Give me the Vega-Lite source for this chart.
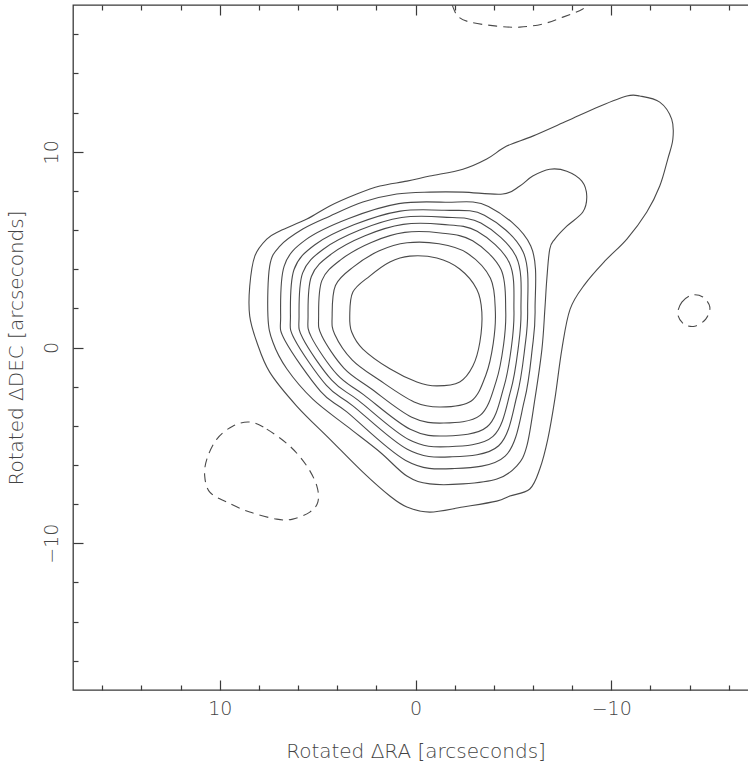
{
  "$schema": "https://vega.github.io/schema/vega-lite/v6.json",
  "width": 685,
  "height": 685,
  "autosize": "none",
  "padding": {"left": 73, "top": 5, "right": 0, "bottom": 74},
  "background": "white",
  "config": {
    "view": {"stroke": "#3a3a3a", "strokeWidth": 1.3},
    "axis": {
      "grid": false,
      "domain": false,
      "tickColor": "#3a3a3a",
      "tickWidth": 1.2,
      "labelFont": "DejaVu Sans",
      "labelFontSize": 19,
      "labelFontWeight": 200,
      "labelColor": "#444444",
      "labelFlush": false,
      "labelOverlap": false,
      "titleFont": "DejaVu Sans",
      "titleFontSize": 20,
      "titleFontWeight": 200,
      "titleColor": "#444444"
    }
  },
  "datasets": {
    "solid": [
      {"c": 1, "i": 1, "x": 8.47, "y": 1.60}, {"c": 1, "i": 2, "x": 8.47, "y": 3.13}, {"c": 1, "i": 3, "x": 8.21, "y": 4.67},
      {"c": 1, "i": 4, "x": 7.60, "y": 5.54}, {"c": 1, "i": 5, "x": 6.93, "y": 5.95}, {"c": 1, "i": 6, "x": 5.55, "y": 6.56},
      {"c": 1, "i": 7, "x": 4.38, "y": 7.23}, {"c": 1, "i": 8, "x": 3.00, "y": 7.84}, {"c": 1, "i": 9, "x": 1.82, "y": 8.25},
      {"c": 1, "i": 10, "x": 0.44, "y": 8.50}, {"c": 1, "i": 11, "x": -0.73, "y": 8.76}, {"c": 1, "i": 12, "x": -2.42, "y": 9.11},
      {"c": 1, "i": 13, "x": -3.64, "y": 9.63}, {"c": 1, "i": 14, "x": -4.66, "y": 10.29}, {"c": 1, "i": 15, "x": -5.99, "y": 10.80},
      {"c": 1, "i": 16, "x": -7.73, "y": 11.57}, {"c": 1, "i": 17, "x": -9.42, "y": 12.33}, {"c": 1, "i": 18, "x": -10.80, "y": 12.85},
      {"c": 1, "i": 19, "x": -11.46, "y": 12.85}, {"c": 1, "i": 20, "x": -12.48, "y": 12.54}, {"c": 1, "i": 21, "x": -13.09, "y": 11.67},
      {"c": 1, "i": 22, "x": -13.15, "y": 10.65}, {"c": 1, "i": 23, "x": -12.89, "y": 9.63}, {"c": 1, "i": 24, "x": -12.48, "y": 8.25},
      {"c": 1, "i": 25, "x": -11.82, "y": 6.92}, {"c": 1, "i": 26, "x": -10.80, "y": 5.54}, {"c": 1, "i": 27, "x": -9.68, "y": 4.42},
      {"c": 1, "i": 28, "x": -8.66, "y": 3.24}, {"c": 1, "i": 29, "x": -7.90, "y": 1.96}, {"c": 1, "i": 30, "x": -7.48, "y": -0.08},
      {"c": 1, "i": 31, "x": -7.12, "y": -2.64}, {"c": 1, "i": 32, "x": -6.76, "y": -4.68}, {"c": 1, "i": 33, "x": -6.35, "y": -6.21},
      {"c": 1, "i": 34, "x": -5.84, "y": -7.23}, {"c": 1, "i": 35, "x": -4.82, "y": -7.59}, {"c": 1, "i": 36, "x": -4.15, "y": -7.85},
      {"c": 1, "i": 37, "x": -2.42, "y": -8.15}, {"c": 1, "i": 38, "x": -0.73, "y": -8.41}, {"c": 1, "i": 39, "x": 0.44, "y": -8.15},
      {"c": 1, "i": 40, "x": 1.31, "y": -7.59}, {"c": 1, "i": 41, "x": 2.69, "y": -6.37}, {"c": 1, "i": 42, "x": 4.38, "y": -4.68},
      {"c": 1, "i": 43, "x": 6.07, "y": -2.99}, {"c": 1, "i": 44, "x": 7.45, "y": -1.26}, {"c": 1, "i": 45, "x": 8.11, "y": 0.28},

      {"c": 2, "i": 1, "x": 7.54, "y": 1.60}, {"c": 2, "i": 2, "x": 7.45, "y": 4.16}, {"c": 2, "i": 3, "x": 6.93, "y": 5.18},
      {"c": 2, "i": 4, "x": 5.76, "y": 6.05}, {"c": 2, "i": 5, "x": 4.38, "y": 6.71}, {"c": 2, "i": 6, "x": 2.69, "y": 7.43},
      {"c": 2, "i": 7, "x": 0.96, "y": 7.84}, {"c": 2, "i": 8, "x": -0.73, "y": 7.94}, {"c": 2, "i": 9, "x": -2.42, "y": 7.94},
      {"c": 2, "i": 10, "x": -4.46, "y": 7.84}, {"c": 2, "i": 11, "x": -5.33, "y": 8.25}, {"c": 2, "i": 12, "x": -5.99, "y": 8.76},
      {"c": 2, "i": 13, "x": -6.86, "y": 9.11}, {"c": 2, "i": 14, "x": -7.73, "y": 9.01}, {"c": 2, "i": 15, "x": -8.50, "y": 8.50},
      {"c": 2, "i": 16, "x": -8.75, "y": 7.74}, {"c": 2, "i": 17, "x": -8.55, "y": 6.92}, {"c": 2, "i": 18, "x": -7.73, "y": 6.20},
      {"c": 2, "i": 19, "x": -7.12, "y": 5.54}, {"c": 2, "i": 20, "x": -6.86, "y": 5.03}, {"c": 2, "i": 21, "x": -6.71, "y": 3.50},
      {"c": 2, "i": 22, "x": -6.61, "y": 1.96}, {"c": 2, "i": 23, "x": -6.46, "y": -0.08}, {"c": 2, "i": 24, "x": -6.10, "y": -2.64},
      {"c": 2, "i": 25, "x": -5.69, "y": -5.03}, {"c": 2, "i": 26, "x": -5.18, "y": -6.05}, {"c": 2, "i": 27, "x": -4.16, "y": -6.72},
      {"c": 2, "i": 28, "x": -2.42, "y": -6.97}, {"c": 2, "i": 29, "x": -0.73, "y": -6.97}, {"c": 2, "i": 30, "x": 0.44, "y": -6.57},
      {"c": 2, "i": 31, "x": 1.82, "y": -5.34}, {"c": 2, "i": 32, "x": 3.51, "y": -4.02}, {"c": 2, "i": 33, "x": 5.25, "y": -2.64},
      {"c": 2, "i": 34, "x": 6.57, "y": -1.10}, {"c": 2, "i": 35, "x": 7.29, "y": 0.28},

      {"c": 3, "i": 1, "x": 6.89, "y": 1.60}, {"c": 3, "i": 2, "x": 6.71, "y": 4.16}, {"c": 3, "i": 3, "x": 5.60, "y": 5.51},
      {"c": 3, "i": 4, "x": 3.41, "y": 6.59}, {"c": 3, "i": 5, "x": 0.86, "y": 7.35}, {"c": 3, "i": 6, "x": -1.52, "y": 7.42},
      {"c": 3, "i": 7, "x": -3.73, "y": 7.21}, {"c": 3, "i": 8, "x": -5.89, "y": 5.19}, {"c": 3, "i": 9, "x": -6.11, "y": 1.94},
      {"c": 3, "i": 10, "x": -5.97, "y": -0.02}, {"c": 3, "i": 11, "x": -5.57, "y": -2.68}, {"c": 3, "i": 12, "x": -4.58, "y": -5.55},
      {"c": 3, "i": 13, "x": -1.86, "y": -6.19}, {"c": 3, "i": 14, "x": 0.50, "y": -5.77}, {"c": 3, "i": 15, "x": 3.51, "y": -3.29},
      {"c": 3, "i": 16, "x": 4.85, "y": -2.24}, {"c": 3, "i": 17, "x": 6.67, "y": 0.36},

      {"c": 4, "i": 1, "x": 6.39, "y": 1.60}, {"c": 4, "i": 2, "x": 6.21, "y": 3.97}, {"c": 4, "i": 3, "x": 5.14, "y": 5.25},
      {"c": 4, "i": 4, "x": 3.12, "y": 6.28}, {"c": 4, "i": 5, "x": 0.78, "y": 6.97}, {"c": 4, "i": 6, "x": -1.46, "y": 7.01},
      {"c": 4, "i": 7, "x": -3.52, "y": 6.76}, {"c": 4, "i": 8, "x": -5.50, "y": 4.88}, {"c": 4, "i": 9, "x": -5.73, "y": 1.92},
      {"c": 4, "i": 10, "x": -5.59, "y": 0.02}, {"c": 4, "i": 11, "x": -5.19, "y": -2.44}, {"c": 4, "i": 12, "x": -4.25, "y": -5.02},
      {"c": 4, "i": 13, "x": -1.75, "y": -5.59}, {"c": 4, "i": 14, "x": 0.42, "y": -5.20}, {"c": 4, "i": 15, "x": 3.20, "y": -2.98},
      {"c": 4, "i": 16, "x": 4.55, "y": -1.94}, {"c": 4, "i": 17, "x": 6.18, "y": 0.42},

      {"c": 5, "i": 1, "x": 5.95, "y": 1.60}, {"c": 5, "i": 2, "x": 5.77, "y": 3.80}, {"c": 5, "i": 3, "x": 4.73, "y": 5.01},
      {"c": 5, "i": 4, "x": 2.85, "y": 6.00}, {"c": 5, "i": 5, "x": 0.71, "y": 6.64}, {"c": 5, "i": 6, "x": -1.41, "y": 6.66},
      {"c": 5, "i": 7, "x": -3.34, "y": 6.36}, {"c": 5, "i": 8, "x": -5.16, "y": 4.60}, {"c": 5, "i": 9, "x": -5.39, "y": 1.90},
      {"c": 5, "i": 10, "x": -5.26, "y": 0.06}, {"c": 5, "i": 11, "x": -4.86, "y": -2.22}, {"c": 5, "i": 12, "x": -3.96, "y": -4.54},
      {"c": 5, "i": 13, "x": -1.65, "y": -5.07}, {"c": 5, "i": 14, "x": 0.35, "y": -4.70}, {"c": 5, "i": 15, "x": 2.92, "y": -2.70},
      {"c": 5, "i": 16, "x": 4.28, "y": -1.67}, {"c": 5, "i": 17, "x": 5.76, "y": 0.47},

      {"c": 6, "i": 1, "x": 5.49, "y": 1.60}, {"c": 6, "i": 2, "x": 5.32, "y": 3.63}, {"c": 6, "i": 3, "x": 4.31, "y": 4.77},
      {"c": 6, "i": 4, "x": 2.58, "y": 5.71}, {"c": 6, "i": 5, "x": 0.63, "y": 6.29}, {"c": 6, "i": 6, "x": -1.35, "y": 6.29},
      {"c": 6, "i": 7, "x": -3.15, "y": 5.94}, {"c": 6, "i": 8, "x": -4.80, "y": 4.32}, {"c": 6, "i": 9, "x": -5.03, "y": 1.89},
      {"c": 6, "i": 10, "x": -4.91, "y": 0.10}, {"c": 6, "i": 11, "x": -4.52, "y": -2.00}, {"c": 6, "i": 12, "x": -3.66, "y": -4.05},
      {"c": 6, "i": 13, "x": -1.55, "y": -4.52}, {"c": 6, "i": 14, "x": 0.27, "y": -4.18}, {"c": 6, "i": 15, "x": 2.64, "y": -2.42},
      {"c": 6, "i": 16, "x": 4.00, "y": -1.39}, {"c": 6, "i": 17, "x": 5.32, "y": 0.53},

      {"c": 7, "i": 1, "x": 4.95, "y": 1.60}, {"c": 7, "i": 2, "x": 4.78, "y": 3.43}, {"c": 7, "i": 3, "x": 3.81, "y": 4.49},
      {"c": 7, "i": 4, "x": 2.26, "y": 5.37}, {"c": 7, "i": 5, "x": 0.55, "y": 5.88}, {"c": 7, "i": 6, "x": -1.28, "y": 5.85},
      {"c": 7, "i": 7, "x": -2.92, "y": 5.45}, {"c": 7, "i": 8, "x": -4.37, "y": 3.98}, {"c": 7, "i": 9, "x": -4.61, "y": 1.87},
      {"c": 7, "i": 10, "x": -4.50, "y": 0.14}, {"c": 7, "i": 11, "x": -4.12, "y": -1.73}, {"c": 7, "i": 12, "x": -3.30, "y": -3.47},
      {"c": 7, "i": 13, "x": -1.44, "y": -3.86}, {"c": 7, "i": 14, "x": 0.19, "y": -3.56}, {"c": 7, "i": 15, "x": 2.30, "y": -2.08},
      {"c": 7, "i": 16, "x": 3.66, "y": -1.05}, {"c": 7, "i": 17, "x": 4.79, "y": 0.60},

      {"c": 8, "i": 1, "x": 4.26, "y": 1.60}, {"c": 8, "i": 2, "x": 4.09, "y": 3.17}, {"c": 8, "i": 3, "x": 3.17, "y": 4.12},
      {"c": 8, "i": 4, "x": 1.85, "y": 4.94}, {"c": 8, "i": 5, "x": 0.43, "y": 5.35}, {"c": 8, "i": 6, "x": -1.20, "y": 5.30},
      {"c": 8, "i": 7, "x": -2.63, "y": 4.83}, {"c": 8, "i": 8, "x": -3.83, "y": 3.54}, {"c": 8, "i": 9, "x": -4.08, "y": 1.84},
      {"c": 8, "i": 10, "x": -3.97, "y": 0.20}, {"c": 8, "i": 11, "x": -3.60, "y": -1.39}, {"c": 8, "i": 12, "x": -2.85, "y": -2.73},
      {"c": 8, "i": 13, "x": -1.29, "y": -3.04}, {"c": 8, "i": 14, "x": 0.07, "y": -2.78}, {"c": 8, "i": 15, "x": 1.87, "y": -1.65},
      {"c": 8, "i": 16, "x": 3.24, "y": -0.63}, {"c": 8, "i": 17, "x": 4.13, "y": 0.68},

      {"c": 9, "i": 1, "x": 3.36, "y": 1.60}, {"c": 9, "i": 2, "x": 3.20, "y": 2.83}, {"c": 9, "i": 3, "x": 2.34, "y": 3.65},
      {"c": 9, "i": 4, "x": 1.31, "y": 4.37}, {"c": 9, "i": 5, "x": 0.29, "y": 4.67}, {"c": 9, "i": 6, "x": -1.09, "y": 4.57},
      {"c": 9, "i": 7, "x": -2.26, "y": 4.01}, {"c": 9, "i": 8, "x": -3.13, "y": 2.98}, {"c": 9, "i": 9, "x": -3.39, "y": 1.81},
      {"c": 9, "i": 10, "x": -3.29, "y": 0.28}, {"c": 9, "i": 11, "x": -2.93, "y": -0.95}, {"c": 9, "i": 12, "x": -2.26, "y": -1.76},
      {"c": 9, "i": 13, "x": -1.09, "y": -1.96}, {"c": 9, "i": 14, "x": -0.07, "y": -1.76}, {"c": 9, "i": 15, "x": 1.31, "y": -1.09},
      {"c": 9, "i": 16, "x": 2.69, "y": -0.08}, {"c": 9, "i": 17, "x": 3.26, "y": 0.79}
    ],
    "dashed": [
      {"c": 1, "i": 1, "x": 8.47, "y": -3.81}, {"c": 1, "i": 2, "x": 7.60, "y": -4.17}, {"c": 1, "i": 3, "x": 6.42, "y": -5.04},
      {"c": 1, "i": 4, "x": 5.55, "y": -6.06}, {"c": 1, "i": 5, "x": 5.04, "y": -7.08}, {"c": 1, "i": 6, "x": 4.99, "y": -7.90},
      {"c": 1, "i": 7, "x": 5.40, "y": -8.41}, {"c": 1, "i": 8, "x": 6.27, "y": -8.77}, {"c": 1, "i": 9, "x": 7.09, "y": -8.77},
      {"c": 1, "i": 10, "x": 8.47, "y": -8.41}, {"c": 1, "i": 11, "x": 9.64, "y": -7.90}, {"c": 1, "i": 12, "x": 10.51, "y": -7.39},
      {"c": 1, "i": 13, "x": 10.77, "y": -6.57}, {"c": 1, "i": 14, "x": 10.66, "y": -5.70}, {"c": 1, "i": 15, "x": 10.15, "y": -4.68},
      {"c": 1, "i": 16, "x": 9.34, "y": -4.02},

      {"c": 2, "i": 1, "x": -13.40, "y": 1.71}, {"c": 2, "i": 2, "x": -13.61, "y": 2.32}, {"c": 2, "i": 3, "x": -14.12, "y": 2.68},
      {"c": 2, "i": 4, "x": -14.68, "y": 2.58}, {"c": 2, "i": 5, "x": -15.04, "y": 2.06}, {"c": 2, "i": 6, "x": -14.83, "y": 1.45},
      {"c": 2, "i": 7, "x": -14.27, "y": 1.09}, {"c": 2, "i": 8, "x": -13.71, "y": 1.20}
    ],
    "edge": [
      {"i": 1, "x": -1.55, "y": 18.21}, {"i": 2, "x": -1.85, "y": 17.55}, {"i": 3, "x": -2.16, "y": 16.93},
      {"i": 4, "x": -2.77, "y": 16.63}, {"i": 5, "x": -4.15, "y": 16.42}, {"i": 6, "x": -5.33, "y": 16.37},
      {"i": 7, "x": -6.50, "y": 16.53}, {"i": 8, "x": -7.53, "y": 16.88}, {"i": 9, "x": -8.55, "y": 17.30},
      {"i": 10, "x": -9.42, "y": 17.90}
    ]
  },
  "resolve": {"axis": {"x": "independent", "y": "independent"}},
  "layer": [
    {
      "data": {"name": "solid"},
      "mark": {"type": "line", "interpolate": "cardinal-closed", "stroke": "#4a4a4a", "strokeWidth": 1.1},
      "encoding": {
        "x": {
          "field": "x", "type": "quantitative",
          "scale": {"domain": [-17.5, 17.5], "reverse": true, "nice": false, "zero": false},
          "axis": {
            "orient": "bottom",
            "values": [-16, -14, -12, -10, -8, -6, -4, -2, 0, 2, 4, 6, 8, 10, 12, 14, 16],
            "tickSize": {"condition": {"test": "datum.value % 10 === 0", "value": -10}, "value": -5},
            "labelExpr": "datum.value % 10 === 0 ? datum.label : ''",
            "labelPadding": 19,
            "title": "Rotated ΔRA [arcseconds]",
            "titlePadding": 18
          }
        },
        "y": {
          "field": "y", "type": "quantitative",
          "scale": {"domain": [-17.5, 17.5], "nice": false, "zero": false},
          "axis": {
            "orient": "left",
            "values": [-16, -14, -12, -10, -8, -6, -4, -2, 0, 2, 4, 6, 8, 10, 12, 14, 16],
            "tickSize": {"condition": {"test": "datum.value % 10 === 0", "value": -10}, "value": -5},
            "labelExpr": "datum.value % 10 === 0 ? datum.label : ''",
            "labelAngle": -90,
            "labelAlign": "center",
            "labelBaseline": "bottom",
            "labelPadding": 22,
            "title": "Rotated ΔDEC [arcseconds]",
            "titlePadding": 11
          }
        },
        "detail": {"field": "c", "type": "nominal"},
        "order": {"field": "i", "type": "quantitative"}
      }
    },
    {
      "data": {"name": "dashed"},
      "mark": {"type": "line", "interpolate": "cardinal-closed", "stroke": "#4a4a4a", "strokeWidth": 1.1, "strokeDash": [9, 6]},
      "encoding": {
        "x": {
          "field": "x", "type": "quantitative",
          "scale": {"domain": [-17.5, 17.5], "reverse": true, "nice": false, "zero": false},
          "axis": {
            "orient": "top",
            "values": [-16, -14, -12, -10, -8, -6, -4, -2, 0, 2, 4, 6, 8, 10, 12, 14, 16],
            "tickSize": {"condition": {"test": "datum.value % 10 === 0", "value": -10}, "value": -5},
            "labels": false,
            "title": null
          }
        },
        "y": {
          "field": "y", "type": "quantitative",
          "scale": {"domain": [-17.5, 17.5], "nice": false, "zero": false},
          "axis": {
            "orient": "right",
            "values": [-16, -14, -12, -10, -8, -6, -4, -2, 0, 2, 4, 6, 8, 10, 12, 14, 16],
            "tickSize": {"condition": {"test": "datum.value % 10 === 0", "value": -10}, "value": -5},
            "labels": false,
            "title": null
          }
        },
        "detail": {"field": "c", "type": "nominal"},
        "order": {"field": "i", "type": "quantitative"}
      }
    },
    {
      "data": {"name": "edge"},
      "mark": {"type": "line", "interpolate": "cardinal", "clip": true, "stroke": "#4a4a4a", "strokeWidth": 1.1, "strokeDash": [9, 6]},
      "encoding": {
        "x": {"field": "x", "type": "quantitative", "scale": {"domain": [-17.5, 17.5], "reverse": true, "nice": false, "zero": false}, "axis": null},
        "y": {"field": "y", "type": "quantitative", "scale": {"domain": [-17.5, 17.5], "nice": false, "zero": false}, "axis": null},
        "order": {"field": "i", "type": "quantitative"}
      }
    }
  ]
}
